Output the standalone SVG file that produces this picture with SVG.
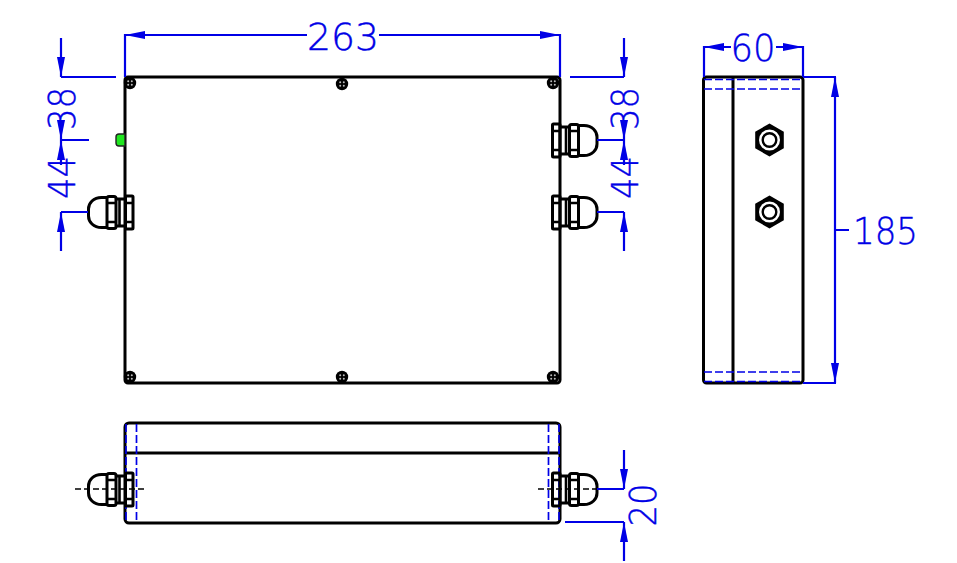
<svg xmlns="http://www.w3.org/2000/svg" xmlns:xlink="http://www.w3.org/1999/xlink" width="957" height="563" viewBox="0 0 957 563">
<style>
.k{fill:none;stroke:#000;stroke-width:3;stroke-linejoin:round}
.kt{fill:none;stroke:#000;stroke-width:2.6}
.d{fill:none;stroke:#0000e6;stroke-width:2.2}
.dash{fill:none;stroke:#0000e6;stroke-width:1.7;stroke-dasharray:8 3}
.cl{fill:none;stroke:#000;stroke-width:1.4;stroke-dasharray:6 3}
.a{fill:#0000e6}
text{font-family:"DejaVu Sans ExtraLight","DejaVu Sans",sans-serif;font-size:38px;fill:#0000e6;stroke:#0000e6;stroke-width:.4;text-anchor:middle;font-weight:200}
</style>
<defs>
<g id="gland">
<rect x="552.500" y="124" width="7.500" height="33" rx="1" class="k"/>
<path d="M552.500 131H560M552.500 150H560" class="kt"/>
<path d="M560 127H570M560 154H570" class="k"/>
<path d="M566 127V154" class="kt"/>
<rect x="569.500" y="124.500" width="9" height="32" rx="2" class="k"/>
<path d="M569.500 131H578.500M569.500 150H578.500" class="kt"/>
<path d="M578.500 125.500H584C592 125.500 597 131 597 137V144C597 150 592 155.500 584 155.500H578.500" class="k"/>
</g>
<g id="screw"><circle r="6.200" fill="#000"/><circle cx="-1.800" cy="-1.800" r="1" fill="#bbb"/><circle cx="1.800" cy="-1.800" r="1" fill="#bbb"/><circle cx="-1.800" cy="1.800" r="1" fill="#bbb"/><circle cx="1.800" cy="1.800" r="1" fill="#bbb"/></g>
<g id="hex"><path d="M0-16.500L14.300-8.250V8.250L0 16.500L-14.300 8.250V-8.250Z" fill="#000"/><circle r="10.500" fill="#fff"/><circle r="6.800" fill="none" stroke="#000" stroke-width="2.400"/></g>
<path id="ad" class="a" d="M0 0L-4-20H4Z"/>
</defs>

<g id="front-view">
<rect x="125" y="77" width="435" height="306" rx="3" class="k"/>
<use xlink:href="#screw" href="#screw" x="130" y="83"/>
<use xlink:href="#screw" href="#screw" x="342" y="84"/>
<use xlink:href="#screw" href="#screw" x="553" y="83"/>
<use xlink:href="#screw" href="#screw" x="130" y="377"/>
<use xlink:href="#screw" href="#screw" x="342" y="377"/>
<use xlink:href="#screw" href="#screw" x="553" y="377"/>
<path id="led" d="M125 134H119Q116 134 116 137V143Q116 146 119 146H125Z" fill="#1fe61f" stroke="#222" stroke-width="1.400"/>
<use xlink:href="#gland" href="#gland"/>
<use xlink:href="#gland" href="#gland" y="72"/>
<use xlink:href="#gland" href="#gland" transform="translate(685.500 72) scale(-1 1)"/>
</g>

<g id="side-view">
<rect x="703.500" y="77" width="99.500" height="306" rx="3" class="k"/>
<path d="M733 77V383" class="k"/>
<path d="M704 79.500H803M704 89H803M704 372H803M704 381.500H803" class="dash"/>
<use xlink:href="#hex" href="#hex" x="769.500" y="140"/>
<use xlink:href="#hex" href="#hex" x="769.500" y="212"/>
</g>

<g id="bottom-view">
<rect x="125" y="423" width="435" height="100" rx="4" class="k"/>
<path d="M125 453H560" class="k"/>
<path d="M126 424V522M136.500 424V522M548.500 424V522M559 424V522" class="dash"/>
<use xlink:href="#gland" href="#gland" y="349"/>
<use xlink:href="#gland" href="#gland" transform="translate(685.500 349) scale(-1 1)"/>
<path d="M75 489H145M538 489H597" class="cl"/>
</g>

<g id="connectors">
<path class="d" d="M125 77V34M560 77V34M125 35H307M379 35H560"/>
<use xlink:href="#ad" href="#ad" transform="translate(125 35) rotate(90)"/>
<use xlink:href="#ad" href="#ad" transform="translate(560 35) rotate(-90)"/>

<path class="d" d="M61 77H116M61 140H89M61 212H88M61 38V77M61 120V165M61 212V251"/>
<use xlink:href="#ad" href="#ad" transform="translate(61 77)"/>
<use xlink:href="#ad" href="#ad" transform="translate(61 140)"/>
<use xlink:href="#ad" href="#ad" transform="translate(61 140) rotate(180)"/>
<use xlink:href="#ad" href="#ad" transform="translate(61 212) rotate(180)"/>

<path class="d" d="M570 77H624M597 140H624M597 212H624M624 38V77M624 120V165M624 212V251"/>
<use xlink:href="#ad" href="#ad" transform="translate(624 77)"/>
<use xlink:href="#ad" href="#ad" transform="translate(624 140)"/>
<use xlink:href="#ad" href="#ad" transform="translate(624 140) rotate(180)"/>
<use xlink:href="#ad" href="#ad" transform="translate(624 212) rotate(180)"/>

<path class="d" d="M704 77V46M803 77V46M704 47H731M776 47H803"/>
<use xlink:href="#ad" href="#ad" transform="translate(704 47) rotate(90)"/>
<use xlink:href="#ad" href="#ad" transform="translate(803 47) rotate(-90)"/>

<path class="d" d="M803 77H836M803 383H836M835 77V383M835 230H849"/>
<use xlink:href="#ad" href="#ad" transform="translate(835 77) rotate(180)"/>
<use xlink:href="#ad" href="#ad" transform="translate(835 383)"/>

<path class="d" d="M597 489H624M565 522H624M624 450V489M624 522V561"/>
<use xlink:href="#ad" href="#ad" transform="translate(624 489)"/>
<use xlink:href="#ad" href="#ad" transform="translate(624 522) rotate(180)"/>
</g>

<g id="labels">
<text x="343" y="50" textLength="72" lengthAdjust="spacingAndGlyphs">263</text>
<text x="753" y="61" textLength="45" lengthAdjust="spacingAndGlyphs">60</text>
<text x="885.500" y="244" textLength="65" lengthAdjust="spacingAndGlyphs">185</text>
<text transform="translate(75 108.500) rotate(-90)" textLength="43" lengthAdjust="spacingAndGlyphs">38</text>
<text transform="translate(75 177.500) rotate(-90)" textLength="43" lengthAdjust="spacingAndGlyphs">44</text>
<text transform="translate(638 108.500) rotate(-90)" textLength="43" lengthAdjust="spacingAndGlyphs">38</text>
<text transform="translate(638 177.500) rotate(-90)" textLength="43" lengthAdjust="spacingAndGlyphs">44</text>
<text transform="translate(656 505) rotate(-90)" textLength="43" lengthAdjust="spacingAndGlyphs">20</text>
</g>
</svg>
